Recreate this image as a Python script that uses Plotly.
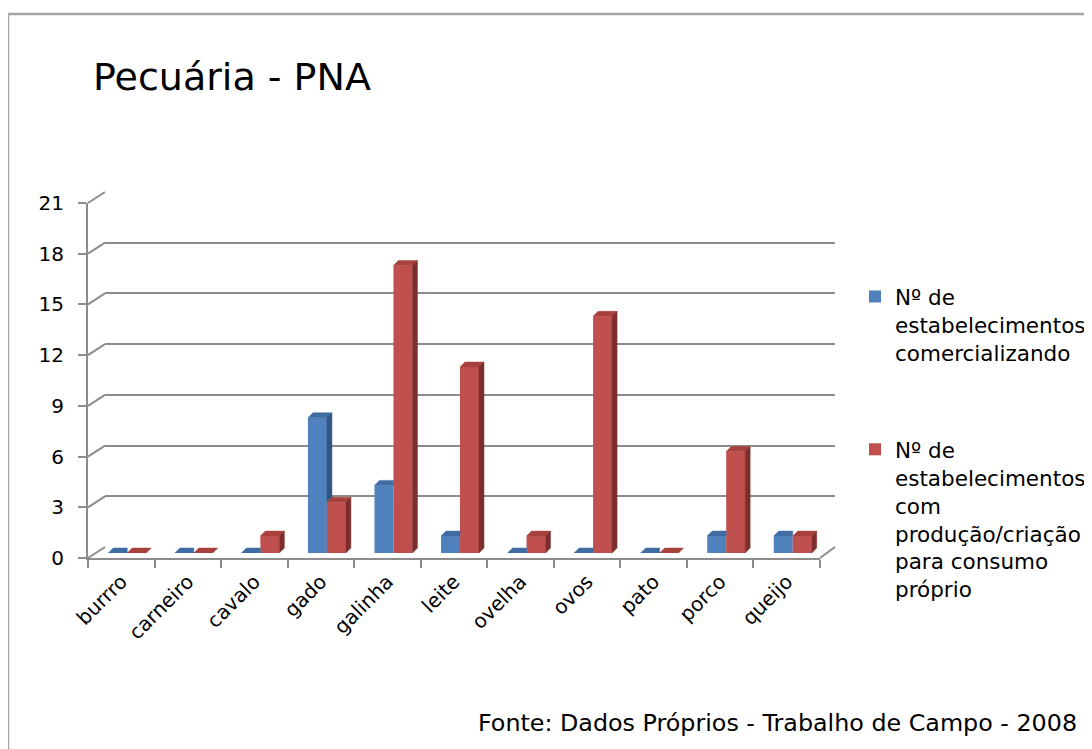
import plotly.graph_objects as go

# ---------------- data ----------------
categories = ["burrro", "carneiro", "cavalo", "gado", "galinha", "leite",
              "ovelha", "ovos", "pato", "porco", "queijo"]
comercializando = [0, 0, 0, 8, 4, 1, 0, 0, 0, 1, 1]
consumo_proprio = [0, 0, 1, 3, 17, 11, 1, 14, 0, 6, 1]
y_ticks = [0, 3, 6, 9, 12, 15, 18, 21]
series_names = [
    "Nº de<br>estabelecimentos<br>comercializando",
    "Nº de<br>estabelecimentos<br>com<br>produção/criação<br>para consumo<br>próprio",
]
title_text = "Pecuária - PNA"
source_text = "Fonte: Dados Próprios - Trabalho de Campo - 2008"

# ---------------- geometry (pixels, screen coordinates) ----------------
W, H = 1092, 749
PAGE_OFF = 8            # default body margin of the html page
FONT = "DejaVu Sans"
GRID = "#8c8c8c"
BLUE, BLUE_TOP, BLUE_SIDE = "#4F81BD", "#3F6CA3", "#2F5583"
RED, RED_TOP, RED_SIDE = "#C0504D", "#A8403D", "#7D2E2C"

FRONT = dict(x0=88, x1=820, y0=558, y1=203)   # front plane of the plot
BACK = dict(x0=105, x1=835, y0=547, y1=192)   # back wall
MID_DX, MID_DY = 6, -5                          # plane where bars stand
FACE_PX = 5                                     # bar depth in px

def px(x):
    return (x - PAGE_OFF) / W

def py(y):
    return 1 - (y - PAGE_OFF) / H

ymax = y_ticks[-1]
n = len(categories)
bar_w = 0.285
unit_x = (FRONT["x1"] - FRONT["x0"]) / n
unit_y = (FRONT["y0"] - FRONT["y1"]) / ymax
DX = FACE_PX / unit_x
DY = FACE_PX / unit_y

fig = go.Figure()

# --- back wall (xy) : gridlines only
fig.add_trace(go.Scatter(x=[0, 1], y=[0, ymax], mode="markers",
                         marker=dict(opacity=0), hoverinfo="skip",
                         showlegend=False, xaxis="x", yaxis="y"))

# --- bars (x2y2)
xs = list(range(n))
fig.add_trace(go.Bar(x=xs, y=comercializando, width=bar_w, offset=-bar_w,
                     marker=dict(color=BLUE, line=dict(width=0)),
                     name=series_names[0], legendgroup="a",
                     xaxis="x2", yaxis="y2"))
fig.add_trace(go.Bar(x=xs, y=consumo_proprio, width=bar_w, offset=0,
                     marker=dict(color=RED, line=dict(width=0)),
                     name=series_names[1], legendgroup="b",
                     xaxis="x2", yaxis="y2"))

def poly_trace(xp, yp, color):
    return go.Scatter(x=xp, y=yp, mode="lines", fill="toself",
                      fillcolor=color, line=dict(color=color, width=0.5),
                      hoverinfo="skip", showlegend=False,
                      xaxis="x2", yaxis="y2")

# blue top / side faces
btx, bty, bsx, bsy = [], [], [], []
for i, (v, r) in enumerate(zip(comercializando, consumo_proprio)):
    l, c = i - bar_w, i
    if r >= v:
        btx += [l, c, c, l + DX, l, None]
        bty += [v, v, v + DY, v + DY, v, None]
    else:
        btx += [l, c, c + DX, l + DX, l, None]
        bty += [v, v, v + DY, v + DY, v, None]
        bsx += [c, c, c + DX, c + DX, c, None]
        bsy += [r, v, v + DY, r + DY, r, None]
fig.add_trace(poly_trace(btx, bty, BLUE_TOP))
if bsx:
    fig.add_trace(poly_trace(bsx, bsy, BLUE_SIDE))

# red top / side faces
rtx, rty, rsx, rsy = [], [], [], []
for i, r in enumerate(consumo_proprio):
    l, rr = i, i + bar_w
    rtx += [l, rr, rr + DX, l + DX, l, None]
    rty += [r, r, r + DY, r + DY, r, None]
    if r > 0:
        rsx += [rr, rr, rr + DX, rr + DX, rr, None]
        rsy += [0, r, r + DY, DY, 0, None]
fig.add_trace(poly_trace(rtx, rty, RED_TOP))
fig.add_trace(poly_trace(rsx, rsy, RED_SIDE))

# --- front axes (x3y3)
fig.add_trace(go.Scatter(x=categories, y=[0] * n, mode="markers",
                         marker=dict(opacity=0), hoverinfo="skip",
                         showlegend=False, xaxis="x3", yaxis="y3"))

# --- 3D connectors (left wall edges and floor right edge)
def yf(t):
    return FRONT["y0"] - (FRONT["y0"] - FRONT["y1"]) * t / ymax

def yb(t):
    return BACK["y0"] - (BACK["y0"] - BACK["y1"]) * t / ymax

shapes = []
for t in y_ticks:
    shapes.append(dict(type="line", xref="paper", yref="paper",
                       x0=px(FRONT["x0"]), y0=py(yf(t)),
                       x1=px(BACK["x0"]), y1=py(yb(t)),
                       line=dict(color=GRID, width=2)))
shapes.append(dict(type="line", xref="paper", yref="paper",
                   x0=px(FRONT["x1"]), y0=py(FRONT["y0"]),
                   x1=px(BACK["x1"]), y1=py(BACK["y0"]),
                   line=dict(color=GRID, width=2)))
# chart frame
shapes.append(dict(type="rect", xref="paper", yref="paper",
                   x0=px(8), y0=py(14), x1=px(W + 40), y1=py(H + 40),
                   line=dict(color="#a6a6a6", width=2.5),
                   fillcolor="rgba(0,0,0,0)"))

annotations = [
    dict(text=title_text, xref="paper", yref="paper", x=px(91), y=py(77),
         xanchor="left", yanchor="middle", showarrow=False,
         font=dict(family=FONT, size=38, color="#000000")),
    dict(text=source_text, xref="paper", yref="paper", x=px(476), y=py(723),
         xanchor="left", yanchor="middle", showarrow=False,
         font=dict(family=FONT, size=23.8, color="#000000")),
]

fig.update_layout(
    width=W, height=H,
    margin=dict(l=0, r=0, t=0, b=0, autoexpand=False),
    paper_bgcolor="white", plot_bgcolor="rgba(0,0,0,0)",
    barmode="overlay",
    font=dict(family=FONT, color="#000000"),
    shapes=shapes,
    annotations=annotations,
    xaxis=dict(domain=[px(BACK["x0"]), px(BACK["x1"])], range=[0, 1],
               visible=False, fixedrange=True),
    yaxis=dict(domain=[py(BACK["y0"]), py(BACK["y1"])], range=[0, ymax],
               tickvals=y_ticks, showgrid=True, gridcolor=GRID, gridwidth=2,
               showticklabels=False, zeroline=False, showline=False,
               ticks=""),
    xaxis2=dict(domain=[px(FRONT["x0"] + MID_DX), px(FRONT["x1"] + MID_DX)],
                range=[-0.5, n - 0.5], visible=False, anchor="y2"),
    yaxis2=dict(domain=[py(FRONT["y0"] + MID_DY), py(FRONT["y1"] + MID_DY)],
                range=[0, ymax], visible=False, anchor="x2"),
    xaxis3=dict(domain=[px(FRONT["x0"]), px(FRONT["x1"])],
                type="category", categoryorder="array",
                categoryarray=categories, range=[-0.5, n - 0.5],
                tickson="boundaries", ticks="outside", ticklen=8,
                tickwidth=2, tickcolor=GRID, showline=True, linecolor=GRID,
                linewidth=2, tickangle=-45, showgrid=False,
                ticklabelstandoff=2, automargin=False,
                tickfont=dict(family=FONT, size=20, color="#000000"),
                anchor="y3"),
    yaxis3=dict(domain=[py(FRONT["y0"]), py(FRONT["y1"])], range=[0, ymax],
                tickvals=y_ticks, ticks="outside", ticklen=8, tickwidth=2,
                tickcolor=GRID, showline=True, linecolor=GRID, linewidth=2,
                showgrid=False, zeroline=False, ticklabelstandoff=10,
                automargin=False,
                tickfont=dict(family=FONT, size=20, color="#000000"),
                anchor="x3"),
    legend=dict(x=px(855), y=py(276), xanchor="left", yanchor="top",
                font=dict(family=FONT, size=21.5, color="#000000"),
                traceorder="grouped", tracegroupgap=66, valign="top",
                bgcolor="rgba(0,0,0,0)", borderwidth=0),
    showlegend=True,
)

fig.write_html("out.html")
